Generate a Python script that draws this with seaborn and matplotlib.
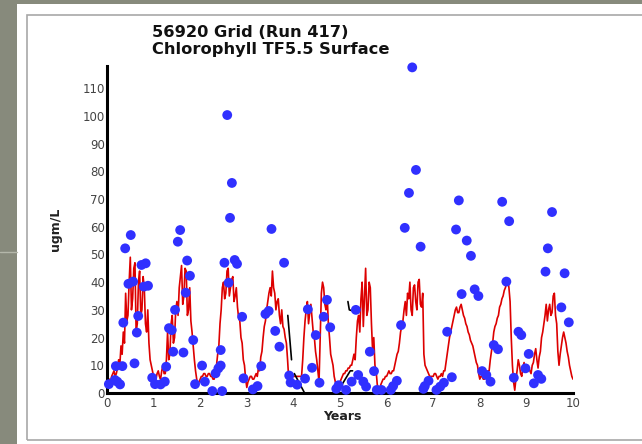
import numpy as np
import pandas as pd
import seaborn as sns
import matplotlib.pyplot as plt
from matplotlib.patches import Rectangle
from matplotlib.lines import Line2D
from matplotlib.ticker import MultipleLocator

# model chlorophyll, every 0.025 yr, one row per half year
model_years = np.round(np.arange(0, 10.001, 0.025), 3)
model_chl = [
    3, 4, 5, 4, 6, 7, 8, 6, 7, 9, 12, 10, 17, 14, 22, 18, 36, 26, 28, 40,
    49, 30, 34, 45, 47, 22, 25, 40, 44, 28, 30, 42, 38, 25, 22, 30, 18, 12, 10, 8,
    6, 5, 5, 7, 8, 6, 5, 8, 10, 7, 7, 12, 22, 12, 14, 25, 28, 18, 20, 30,
    33, 28, 38, 42, 46, 32, 35, 45, 44, 28, 30, 38, 26, 22, 17, 12, 8, 5, 3, 4,
    5, 6, 6, 7, 7, 6, 6, 7, 7, 6, 6, 5, 5, 8, 10, 14, 17, 25, 30, 38,
    40, 34, 36, 44, 45, 35, 38, 41, 42, 33, 35, 38, 31, 27, 26, 20, 18, 12, 10, 5,
    2, 4, 5, 6, 6, 5, 5, 6, 7, 6, 9, 8, 13, 15, 20, 24, 26, 30, 33, 36,
    38, 35, 44, 38, 36, 30, 33, 34, 28, 25, 30, 24, 23, 20, 18, 12, 5, 6, 6, 6,
    6, 6, 6, 6, 6, 6, 6, 6, 12, 20, 26, 30, 33, 25, 29, 32, 27, 22, 20, 15,
    12, 8, 4, 20, 36, 40, 38, 32, 30, 35, 25, 20, 14, 12, 10, 6, 4, 3, 2, 3,
    4, 5, 6, 7, 7, 8, 8, 9, 9, 10, 10, 12, 14, 12, 20, 26, 28, 22, 34, 40,
    24, 35, 45, 28, 30, 40, 38, 25, 15, 20, 10, 8, 3, 2, 1, 3, 4, 5, 5, 6,
    6, 7, 8, 7, 7, 8, 8, 10, 12, 14, 15, 18, 22, 24, 26, 30, 33, 28, 36, 34,
    40, 30, 28, 38, 39, 33, 30, 40, 41, 32, 31, 36, 14, 10, 9, 8, 7, 6, 6, 6,
    6, 7, 7, 6, 5, 6, 6, 7, 6, 8, 8, 11, 14, 17, 20, 22, 24, 26, 28, 30,
    31, 29, 29, 31, 32, 30, 28, 27, 25, 24, 22, 21, 19, 18, 17, 15, 13, 11, 10, 7,
    5, 6, 6, 5, 5, 6, 7, 8, 8, 12, 15, 18, 22, 24, 25, 27, 28, 31, 32, 34,
    35, 37, 38, 40, 41, 38, 33, 20, 10, 4, 1, 5, 8, 12, 10, 7, 6, 9, 11, 8,
    8, 10, 9, 8, 7, 10, 11, 14, 16, 12, 9, 13, 15, 20, 22, 25, 28, 32, 26, 30,
    32, 28, 29, 35, 36, 28, 25, 15, 10, 14, 17, 20, 22, 20, 18, 15, 13, 10, 8, 6,
    5,
]

# short black segments (second series)
black_seg = [0, 0, 1, 1, 2, 2, 2, 3, 3, 3]
black_years = [3.88, 3.96, 4.02, 4.24, 4.97, 5.22, 5.27, 5.17, 5.20, 5.30]
black_chl = [28, 12, 7, 0, 1, 8, 8, 33, 30, 29.5]

# observed samples
obs_years = [
    0.04, 0.17, 0.22, 0.28, 0.19, 0.33, 0.35, 0.39, 0.51, 0.46, 0.56, 0.59,
    0.64, 0.67, 0.74, 0.83, 0.79, 0.88, 0.97, 1.03, 1.15, 1.24, 1.27, 1.33,
    1.39, 1.42, 1.46, 1.52, 1.57, 1.64, 1.69, 1.72, 1.78, 1.85, 1.89, 2.04,
    2.10, 2.26, 2.33, 2.39, 2.44, 2.44, 2.47, 2.52, 2.58, 2.61, 2.64, 2.68,
    2.74, 2.79, 2.90, 2.93, 3.13, 3.23, 3.31, 3.40, 3.47, 3.53, 3.61, 3.70,
    3.80, 3.91, 3.94, 4.08, 4.25, 4.31, 4.40, 4.48, 4.56, 4.65, 4.72, 4.79,
    4.92, 4.97, 5.13, 5.25, 5.34, 5.39, 5.50, 5.56, 5.64, 5.73, 5.79, 5.89,
    6.09, 6.14, 6.22, 6.31, 6.39, 6.48, 6.55, 6.63, 6.73, 6.79, 6.82, 6.90,
    7.07, 7.15, 7.23, 7.30, 7.40, 7.49, 7.55, 7.61, 7.72, 7.81, 7.89, 7.97,
    8.05, 8.14, 8.23, 8.30, 8.39, 8.48, 8.57, 8.63, 8.73, 8.83, 8.89, 8.98,
    9.05, 9.16, 9.25, 9.32, 9.41, 9.46, 9.55, 9.75, 9.82, 9.91,
]
obs_chl = [
    3.2, 4.7, 4.1, 3.1, 9.7, 9.7, 25.4, 52.2, 57.0, 39.4, 40.2, 10.7,
    21.8, 27.8, 46.2, 46.8, 38.4, 38.7, 5.5, 3.2, 3.1, 4.1, 9.5, 23.4,
    22.7, 14.9, 30.0, 54.6, 58.8, 14.6, 36.2, 47.8, 42.3, 19.1, 3.2, 9.9,
    4.1, 0.7, 7.1, 8.9, 9.9, 15.5, 0.7, 47.0, 100.3, 39.8, 63.2, 75.8,
    48.0, 46.6, 27.5, 5.3, 1.3, 2.5, 9.7, 28.5, 29.6, 59.2, 22.4, 16.7,
    47.0, 6.3, 3.8, 3.0, 5.2, 30.2, 9.1, 20.9, 3.7, 27.5, 33.6, 23.7,
    1.5, 2.8, 1.1, 4.1, 30.0, 6.5, 4.1, 2.3, 14.9, 7.9, 1.1, 1.1,
    1.1, 2.5, 4.4, 24.5, 59.6, 72.2, 117.5, 80.5, 52.8, 1.5, 2.5, 4.4,
    1.1, 2.3, 3.7, 22.1, 5.7, 59.0, 69.5, 35.7, 55.0, 49.5, 37.4, 35.0,
    7.9, 6.5, 4.1, 17.3, 15.8, 69.0, 40.2, 62.0, 5.5, 22.1, 20.9, 8.9,
    14.1, 3.5, 6.5, 5.1, 43.8, 52.2, 65.3, 30.9, 43.2, 25.5,
]

model = pd.DataFrame({"Years": model_years, "chl": model_chl})
black = pd.DataFrame({"Years": black_years, "chl": black_chl, "seg": black_seg})
obs = pd.DataFrame({"Years": obs_years, "chl": obs_chl})

sns.set_style("white")
plt.rcParams["font.family"] = ["DejaVu Sans"]

fig = plt.figure(figsize=(6.42, 4.44), dpi=100, facecolor="#878a7c")
W, H = 642, 444

# white slide panel and its thin frame
fig.patches.append(Rectangle((17 / W, 0), 1, 1 - 4 / H, transform=fig.transFigure,
                             facecolor="white", edgecolor="none", zorder=-2))
fig.patches.append(Rectangle((27 / W, 4 / H), 1, (440 - 15) / H, transform=fig.transFigure,
                             facecolor="none", edgecolor="#a8a8a8", lw=1.2, zorder=-1))
fig.lines.append(Line2D([0, 17 / W], [1 - 252 / H, 1 - 252 / H], transform=fig.transFigure,
                        color="#b4b7aa", lw=1, zorder=-1))

ax = fig.add_axes([107 / W, 51 / H, 466 / W, 327 / H])
ax.set_zorder(2)
ax.patch.set_alpha(0)

sns.lineplot(data=model, x="Years", y="chl", ax=ax, color="#dd0000", lw=1.2,
             estimator=None, sort=False, zorder=2)
sns.lineplot(data=black, x="Years", y="chl", units="seg", estimator=None, ax=ax,
             color="black", lw=1.2, sort=False, zorder=3)
sns.scatterplot(data=obs, x="Years", y="chl", ax=ax, color="#3030ff", s=50,
                edgecolor="none", zorder=4, clip_on=False)

ax.set_xlim(0, 10)
ax.set_ylim(0, 118)
ax.xaxis.set_major_locator(MultipleLocator(1))
ax.xaxis.set_minor_locator(MultipleLocator(0.2))
ax.yaxis.set_major_locator(MultipleLocator(10))
ax.yaxis.set_minor_locator(MultipleLocator(2))
ax.tick_params(which="major", direction="in", length=6, width=1.5, labelsize=8.5,
               labelcolor="#444444", color="black")
ax.tick_params(which="minor", direction="in", length=3.5, width=1, color="black")
ax.tick_params(axis="y", pad=1.5)
ax.tick_params(axis="x", pad=3)

for side in ["top", "right"]:
    ax.spines[side].set_visible(False)
for side in ["left", "bottom"]:
    ax.spines[side].set_linewidth(2.2)
    ax.spines[side].set_color("black")

ax.set_xlabel("Years", fontsize=9, fontweight="bold", color="#222222")
ax.set_ylabel("ugm/L", fontsize=9, fontweight="bold", color="#222222")
ax.xaxis.set_label_coords(0.504, -0.052)
ax.yaxis.set_label_coords(-0.097, 0.5)

fig.text(152 / W, 1 - 25 / H, "56920 Grid (Run 417)\nChlorophyll TF5.5 Surface",
         fontsize=11.7, fontweight="bold", color="#111111", ha="left", va="top",
         linespacing=1.15)

fig.savefig("out.png", dpi=100, facecolor=fig.get_facecolor())
